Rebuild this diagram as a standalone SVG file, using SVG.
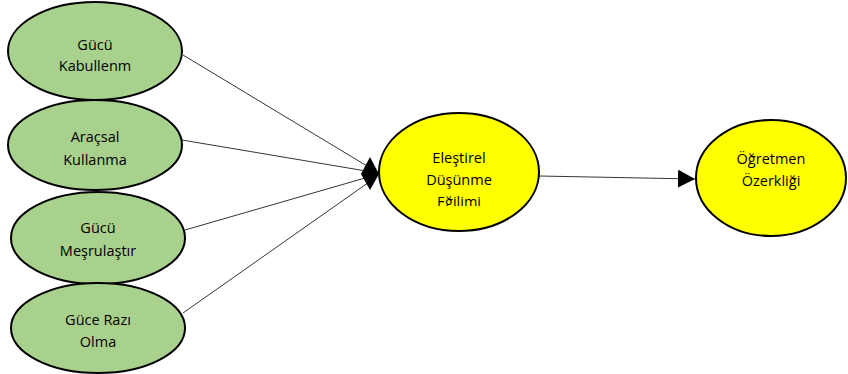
<svg xmlns="http://www.w3.org/2000/svg" width="848" height="374" viewBox="0 0 848 374">
<style>
.g{fill:#a9d18e;stroke:#000;stroke-width:2}
.y{fill:#ffff00;stroke:#000;stroke-width:2}
.t{font-family:"Open Sans","Liberation Sans",sans-serif;font-size:14.5px;fill:#000;text-anchor:middle}
.c{stroke:#000;stroke-width:0.8;fill:none}
</style>
<defs>
<marker id="tri" markerWidth="18" markerHeight="18" refX="17" refY="9" orient="auto" markerUnits="userSpaceOnUse">
<path d="M0,0 L17,9 L0,18 Z" fill="#000"/>
</marker>
<clipPath id="cc"><rect x="370" y="110" width="180" height="96"/></clipPath>
</defs>
<g id="n1"><ellipse class="g" cx="95" cy="51" rx="87" ry="49"/><text class="t" x="95" y="50">Gücü</text><text class="t" x="95" y="71">Kabullenm</text></g>
<g id="n2"><ellipse class="g" cx="95" cy="145" rx="87" ry="45"/><text class="t" x="95" y="142">Araçsal</text><text class="t" x="95" y="165">Kullanma</text></g>
<g id="n3"><ellipse class="g" cx="98" cy="238" rx="87" ry="46"/><text class="t" x="98" y="233">Gücü</text><text class="t" x="98" y="256">Meşrulaştır</text></g>
<g id="n4"><ellipse class="g" cx="98" cy="328" rx="87" ry="45"/><text class="t" x="98" y="325">Güce Razı</text><text class="t" x="98" y="347">Olma</text></g>
<g id="n5"><ellipse class="y" cx="459" cy="172" rx="80" ry="59"/><text class="t" x="459" y="163">Eleştirel</text><text class="t" x="459" y="185">Düşünme</text><text class="t" x="459" y="207" clip-path="url(#cc)">Eğilimi</text></g>
<g id="n6"><ellipse class="y" cx="771" cy="178" rx="75" ry="58"/><text class="t" x="771" y="164">Öğretmen</text><text class="t" x="771" y="186">Özerkliği</text></g>
<g id="connectors">
<line class="c" x1="183" y1="55" x2="372" y2="169"/>
<line class="c" x1="182" y1="140" x2="372" y2="172"/>
<line class="c" x1="185" y1="230" x2="372" y2="176"/>
<line class="c" x1="183" y1="313" x2="372" y2="180"/>
<polygon points="361,174 370,157 379,174 370,190" fill="#000"/>
<line class="c" x1="539" y1="176" x2="695" y2="179" marker-end="url(#tri)"/>
</g>
</svg>
